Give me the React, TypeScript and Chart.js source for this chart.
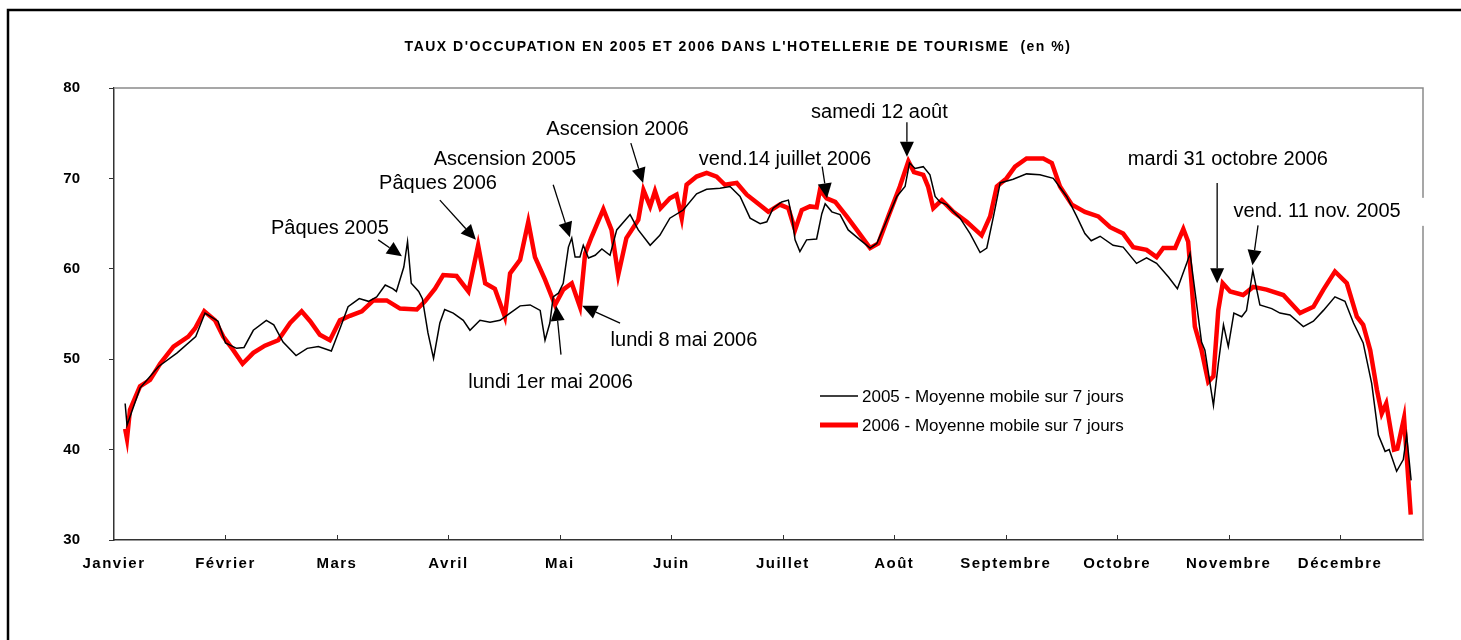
import React, { useEffect, useRef } from "react";
import { Chart, registerables } from "chart.js";

Chart.register(...registerables);

const TITLE = "TAUX D'OCCUPATION EN 2005 ET 2006 DANS L'HOTELLERIE DE TOURISME  (en %)";
const MONTHS = ["Janvier", "Février", "Mars", "Avril", "Mai", "Juin", "Juillet", "Août", "Septembre", "Octobre", "Novembre", "Décembre"];
const DAYS_PER_MONTH = 30;
const X_MAX = 352.3;
const Y_TICKS = [30, 40, 50, 60, 70, 80];

const DAYS_2005 = [3, 3.5, 7, 12, 17, 22, 24.5, 28, 30, 33, 35, 37.5, 41, 43, 45.5, 49, 52, 55, 58.5, 61, 63, 66, 68.5, 70.7, 73, 75, 76, 78, 79, 80, 82, 83, 84.5, 86, 87.7, 89, 91.3, 94, 95.8, 98.5, 101.2, 103.9, 106.6, 109.3, 112, 114.7, 116, 117.3, 118.2, 119.6, 120.9, 122.3, 123.2, 124.1, 125.4, 126.3, 127.7, 129.5, 131.3, 133.5, 135.3, 138.9, 141.1, 144.3, 146.9, 149.6, 153.2, 156.8, 159.5, 163.1, 165.8, 168.5, 171.2, 173.9, 175.7, 177.4, 179.7, 181.5, 182.4, 183.3, 184.6, 186.4, 189.1, 190.5, 191.4, 193.2, 195.4, 197.6, 200.8, 203.5, 205.3, 208, 210.7, 212.9, 214.1, 215.6, 217.8, 219.6, 221, 222.3, 224.1, 227.7, 230.4, 233.1, 234.9, 236.7, 238.5, 242, 245.6, 249.2, 252.8, 256.4, 259.1, 261.3, 263, 265.4, 268.9, 271.6, 275.2, 277.9, 280.6, 283.8, 286.2, 288.7, 289.6, 292.7, 293.6, 295.9, 297.2, 298.6, 299.9, 301.4, 303.5, 304.8, 306.5, 308.4, 311.6, 313.8, 316.5, 320.1, 322.8, 325.5, 328.6, 331.3, 333.6, 336.2, 338.5, 340.3, 342.1, 343.2, 345.2, 347, 347.9, 349.1];
const OCC_2005 = [45.1, 42.7, 46.8, 49.2, 50.7, 52.5, 55.1, 54.2, 51.8, 51.2, 51.3, 53.2, 54.3, 53.8, 51.9, 50.4, 51.2, 51.4, 50.9, 53.6, 55.8, 56.7, 56.4, 56.9, 58.2, 57.8, 57.5, 60.2, 63.0, 58.4, 57.5, 56.7, 52.9, 50.1, 54.0, 55.5, 55.1, 54.3, 53.2, 54.3, 54.1, 54.3, 55.1, 55.9, 56.0, 55.4, 52.1, 54.0, 56.9, 57.3, 58.4, 62.4, 63.4, 61.3, 61.3, 62.6, 61.2, 61.5, 62.2, 61.5, 64.3, 66.0, 64.3, 62.6, 63.7, 65.6, 66.5, 68.3, 68.8, 68.9, 69.1, 68.0, 65.6, 65.0, 65.2, 66.7, 67.4, 67.6, 65.8, 63.2, 61.9, 63.2, 63.3, 66.1, 67.2, 66.3, 66.0, 64.3, 63.2, 62.3, 62.8, 65.4, 68.0, 69.1, 71.7, 71.1, 71.3, 70.4, 68.0, 67.4, 67.1, 65.6, 63.9, 61.8, 62.3, 65.8, 69.5, 69.9, 70.5, 70.4, 70.0, 68.0, 65.8, 63.9, 63.1, 63.6, 62.6, 62.4, 60.6, 61.2, 60.6, 59.1, 57.8, 60.6, 61.7, 51.9, 51.0, 44.9, 49.5, 53.8, 51.4, 55.1, 54.7, 55.4, 59.8, 56.0, 55.6, 55.1, 54.9, 53.6, 54.2, 55.4, 56.9, 56.4, 54.0, 51.8, 47.3, 41.6, 39.8, 40.0, 37.6, 38.9, 41.6, 36.6];

const DAYS_2006 = [3, 3.5, 4.3, 7, 9.7, 12.4, 16, 20, 21.8, 24.3, 27.2, 29.4, 32.1, 34.6, 37.5, 40.6, 44.2, 47.4, 50.5, 52.8, 55.4, 58.1, 60.8, 63.5, 66.7, 69.8, 73.4, 77, 81.5, 83.7, 86.4, 88.6, 92.2, 95.4, 98, 99.9, 102.5, 105.2, 106.6, 109.3, 111.5, 113.3, 116, 118.7, 120.9, 123.2, 125.4, 126.8, 128.6, 131.7, 133.9, 135.7, 137.9, 141.1, 142.5, 144.3, 145.6, 147.1, 149.6, 151.4, 152.8, 154.1, 156.8, 159.5, 162.2, 164.4, 167.6, 170.3, 173.4, 176.1, 179.2, 181.5, 183.3, 185.1, 187.3, 189.1, 190, 191.8, 194.1, 197.2, 199.9, 203.5, 205.7, 208.4, 211.5, 213.8, 215.3, 217.8, 219.1, 220.5, 222.8, 225.9, 229.5, 233.5, 235.8, 237.6, 240.2, 242.5, 245.6, 250.1, 252.4, 254.6, 257.8, 261.3, 264.9, 268.1, 271.6, 274.3, 277.9, 280.6, 282.4, 285.6, 287.8, 289.1, 290, 290.9, 292.7, 294.5, 295.9, 297.2, 298.4, 300.4, 303.9, 306.6, 310.2, 314.7, 319.2, 322.8, 325.5, 328.6, 331.8, 334.5, 336.2, 338.1, 339.9, 341.2, 342.4, 344.5, 345.4, 347.2, 349];
const OCC_2006 = [42.3, 41.2, 44.4, 47.0, 47.7, 49.5, 51.4, 52.5, 53.4, 55.3, 54.3, 52.5, 51.0, 49.5, 50.7, 51.5, 52.1, 54.0, 55.3, 54.2, 52.7, 52.1, 54.3, 54.8, 55.3, 56.5, 56.5, 55.6, 55.5, 56.4, 57.8, 59.3, 59.2, 57.5, 62.6, 58.4, 57.8, 54.7, 59.5, 61.0, 65.2, 61.3, 58.8, 56.0, 57.7, 58.4, 55.8, 61.7, 63.6, 66.6, 64.3, 59.3, 63.4, 65.4, 68.7, 66.9, 68.6, 66.7, 67.8, 68.2, 65.6, 69.3, 70.2, 70.6, 70.2, 69.3, 69.5, 68.2, 67.2, 66.3, 67.1, 66.7, 64.3, 66.5, 66.9, 66.8, 68.7, 67.8, 67.4, 65.8, 64.3, 62.3, 62.8, 65.8, 69.1, 71.9, 70.7, 70.4, 69.1, 66.7, 67.6, 66.3, 65.2, 63.7, 65.8, 69.1, 70.0, 71.3, 72.2, 72.2, 71.7, 69.1, 67.1, 66.3, 65.8, 64.6, 63.9, 62.4, 62.1, 61.3, 62.3, 62.3, 64.4, 63.0, 58.4, 53.6, 51.0, 47.5, 48.1, 55.4, 58.4, 57.5, 57.1, 58.0, 57.7, 57.1, 55.1, 55.8, 57.7, 59.7, 58.4, 54.7, 53.8, 51.0, 46.6, 44.0, 45.1, 40.0, 40.1, 43.5, 32.8];

const LEGEND_LABELS = ["2005 - Moyenne mobile sur 7 jours", "2006 - Moyenne mobile sur 7 jours"];

// Annotations in data units (day, value)
const NOTES = [
  { text: "Pâques 2005", x: 58.1, y: 64.5, from: [71.1, 63.2], to: [77.5, 61.4] },
  { text: "Pâques 2006", x: 87.2, y: 69.4, from: [87.7, 67.6], to: [97.4, 63.2] },
  { text: "Ascension 2005", x: 105.2, y: 72.1, from: [118.2, 69.3], to: [122.7, 63.5] },
  { text: "Ascension 2006", x: 135.5, y: 75.4, from: [139.1, 73.9], to: [142.4, 69.5] },
  { text: "vend.14 juillet 2006", x: 180.6, y: 72.1, from: [190.6, 71.3], to: [191.9, 67.8] },
  { text: "samedi 12 août", x: 206.0, y: 77.3, from: [213.4, 76.2], to: [213.4, 72.4] },
  { text: "mardi 31 octobre 2006", x: 299.8, y: 72.1, from: [296.9, 69.5], to: [296.9, 58.4] },
  { text: "vend. 11 nov. 2005", x: 323.8, y: 66.3, from: [307.9, 64.8], to: [306.4, 60.4], box: true },
  { text: "lundi 1er mai 2006", x: 117.5, y: 47.4, from: [120.3, 50.5], to: [119.0, 55.9] },
  { text: "lundi 8 mai 2006", x: 153.4, y: 52.1, from: [136.2, 54.0], to: [126.0, 55.9] },
];

const FONT = "'Liberation Sans', Arial, Helvetica, sans-serif";

function arrow(ctx: CanvasRenderingContext2D, x1: number, y1: number, x2: number, y2: number) {
  const ang = Math.atan2(y2 - y1, x2 - x1);
  const len = 15;
  const hw = 7;
  const bx = x2 - len * Math.cos(ang);
  const by = y2 - len * Math.sin(ang);
  ctx.strokeStyle = "#000";
  ctx.lineWidth = 1.3;
  ctx.beginPath();
  ctx.moveTo(x1, y1);
  ctx.lineTo(bx, by);
  ctx.stroke();
  ctx.fillStyle = "#000";
  ctx.beginPath();
  ctx.moveTo(x2, y2);
  ctx.lineTo(bx + hw * Math.sin(ang), by - hw * Math.cos(ang));
  ctx.lineTo(bx - hw * Math.sin(ang), by + hw * Math.cos(ang));
  ctx.closePath();
  ctx.fill();
}

const overlayPlugin = {
  id: "overlay",
  beforeDraw(chart: any) {
    const ctx = chart.ctx as CanvasRenderingContext2D;
    ctx.save();
    ctx.fillStyle = "#fff";
    ctx.fillRect(0, 0, chart.width, chart.height);
    ctx.restore();
  },
  afterDraw(chart: any) {
    const ctx = chart.ctx as CanvasRenderingContext2D;
    const a = chart.chartArea;
    const xs = chart.scales.x;
    const ys = chart.scales.y;
    ctx.save();
    // outer frame
    ctx.strokeStyle = "#000";
    ctx.lineWidth = 2.5;
    ctx.strokeRect(8, 10, chart.width + 20, chart.height + 20);
    // plot area top / right border
    ctx.strokeStyle = "#8a8a8a";
    ctx.lineWidth = 1.5;
    ctx.beginPath();
    ctx.moveTo(a.left, a.top);
    ctx.lineTo(a.right, a.top);
    ctx.lineTo(a.right, a.bottom);
    ctx.stroke();
    // x inner tick marks
    ctx.strokeStyle = "#333";
    ctx.lineWidth = 1;
    for (let i = 1; i < MONTHS.length; i++) {
      const px = Math.round(xs.getPixelForValue(i * DAYS_PER_MONTH)) + 0.5;
      ctx.beginPath();
      ctx.moveTo(px, a.bottom);
      ctx.lineTo(px, a.bottom - 5);
      ctx.stroke();
    }
    // month labels
    ctx.fillStyle = "#000";
    ctx.font = `bold 15px ${FONT}`;
    (ctx as any).letterSpacing = "1.5px";
    ctx.textAlign = "center";
    ctx.textBaseline = "middle";
    MONTHS.forEach((m, i) => {
      ctx.fillText(m, xs.getPixelForValue(i * DAYS_PER_MONTH), a.bottom + 24);
    });
    // title
    ctx.font = `bold 14px ${FONT}`;
    (ctx as any).letterSpacing = "1.5px";
    ctx.fillText(TITLE, 738, 47);
    (ctx as any).letterSpacing = "0px";
    // annotations
    ctx.font = `20px ${FONT}`;
    NOTES.forEach((n) => {
      const tx = xs.getPixelForValue(n.x);
      const ty = ys.getPixelForValue(n.y);
      if (n.box) {
        const w = ctx.measureText(n.text).width;
        ctx.fillStyle = "#fff";
        ctx.fillRect(tx - w / 2 - 6, ty - 14, w + 34, 28);
      }
      ctx.fillStyle = "#000";
      ctx.fillText(n.text, tx, ty);
      arrow(ctx, xs.getPixelForValue(n.from[0]), ys.getPixelForValue(n.from[1]), xs.getPixelForValue(n.to[0]), ys.getPixelForValue(n.to[1]));
    });
    // legend
    const lx = 820;
    const ly = [396, 425];
    ctx.font = `17px ${FONT}`;
    ctx.textAlign = "left";
    LEGEND_LABELS.forEach((lab, i) => {
      ctx.strokeStyle = i === 0 ? "#000" : "#ff0000";
      ctx.lineWidth = i === 0 ? 1.5 : 5;
      ctx.beginPath();
      ctx.moveTo(lx, ly[i]);
      ctx.lineTo(lx + 38, ly[i]);
      ctx.stroke();
      ctx.fillStyle = "#000";
      ctx.fillText(lab, lx + 42, ly[i] + 1);
    });
    ctx.restore();
  },
};

export default function App() {
  const ref = useRef<HTMLCanvasElement | null>(null);
  useEffect(() => {
    if (!ref.current) return;
    const chart = new Chart(ref.current, {
      type: "line",
      data: {
        datasets: [
          {
            label: LEGEND_LABELS[0],
            data: DAYS_2005.map((d, i) => ({ x: d, y: OCC_2005[i] })),
            borderColor: "#000",
            borderWidth: 1.5,
            pointRadius: 0,
            tension: 0,
            order: 0,
          },
          {
            label: LEGEND_LABELS[1],
            data: DAYS_2006.map((d, i) => ({ x: d, y: OCC_2006[i] })),
            borderColor: "#ff0000",
            borderWidth: 4.5,
            pointRadius: 0,
            tension: 0,
            order: 1,
          },
        ],
      },
      options: {
        animation: false,
        responsive: false,
        devicePixelRatio: 1,
        layout: { padding: { left: 0, right: 38, top: 88, bottom: 40 } },
        plugins: { legend: { display: false }, title: { display: false }, tooltip: { enabled: false } },
        scales: {
          x: {
            type: "linear",
            min: 0,
            max: X_MAX,
            afterBuildTicks: (s: any) => {
              s.ticks = MONTHS.map((_, i) => ({ value: i * DAYS_PER_MONTH }));
            },
            afterFit: (s: any) => {
              s.height = 60;
            },
            ticks: { display: false },
            grid: { display: true, drawOnChartArea: false, drawTicks: false },
            border: { display: true, color: "#333", width: 1.5 },
          },
          y: {
            min: 30,
            max: 80,
            afterBuildTicks: (s: any) => {
              s.ticks = Y_TICKS.map((v) => ({ value: v }));
            },
            afterFit: (s: any) => {
              s.width = 114;
            },
            ticks: { color: "#000", padding: 29, font: { family: FONT, size: 15, weight: "bold" } },
            grid: { display: true, drawOnChartArea: false, drawTicks: true, tickLength: 5, color: "#333" },
            border: { display: true, color: "#333", width: 1.5 },
          },
        },
      },
      plugins: [overlayPlugin],
    });
    return () => chart.destroy();
  }, []);
  return (
    <div style={{ position: "absolute", left: 0, top: 0, width: 1461, height: 640, background: "#fff" }}>
      <canvas ref={ref} width={1461} height={640} style={{ display: "block" }} />
    </div>
  );
}
